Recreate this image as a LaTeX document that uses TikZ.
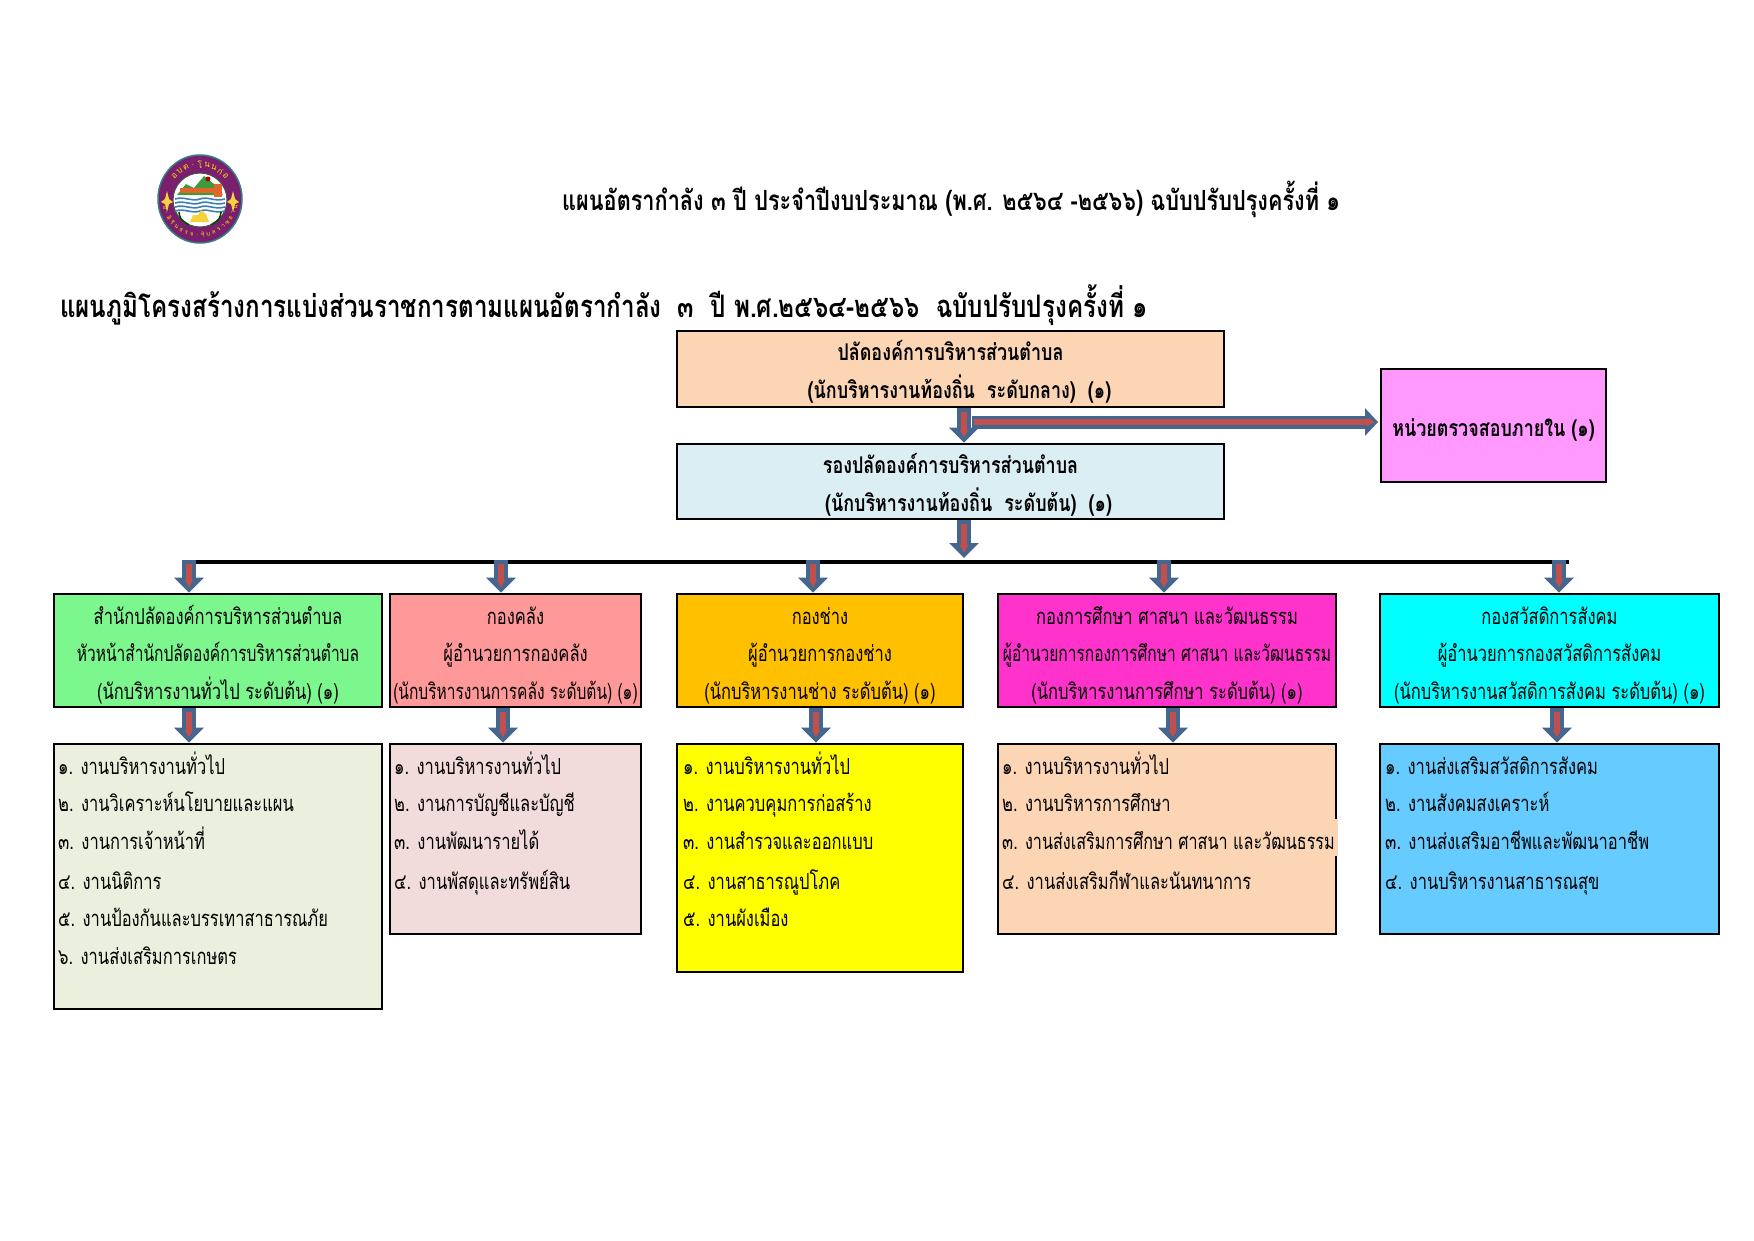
\documentclass[tikz,border=0pt]{standalone}
\usepackage{fontspec}
\usetikzlibrary{arrows.meta}
\newfontfamily\thaifont[Script=Thai,FakeStretch=0.75]{Loma}
\newfontfamily\titlefont[Script=Thai,FakeStretch=0.78]{Loma}
\newfontfamily\sealfont[Script=Thai]{Loma}
\definecolor{arrowblue}{HTML}{44668F}
\definecolor{arrowred}{HTML}{C0504D}
\definecolor{sealpurple}{HTML}{7A1F6E}
\definecolor{sealgreen}{HTML}{3E9A3A}
\definecolor{sealorange}{HTML}{E2662A}
\definecolor{sealwater}{HTML}{3F7FB0}
\definecolor{sealgold}{HTML}{F4D23C}
\definecolor{purecyan}{HTML}{00FFFF}
\definecolor{pureyellow}{HTML}{FFFF00}
\definecolor{peachfill}{HTML}{FCD5B5}
\tikzset{
  headbox/.style={draw=black,line width=2.8pt,align=center,inner sep=0pt,text=black,
    font=\thaifont\fontsize{22}{37.5}\selectfont,text height=102pt},
  listbox/.style={draw=black,line width=2.8pt,inner sep=0pt},
  listrow/.style={anchor=base west,inner sep=0pt,text=black,
    font=\thaifont\fontsize{22}{26}\selectfont},
  topbox/.style={headbox,font=\titlefont\bfseries\fontsize{23}{38}\selectfont,text height=64pt},
  titletext/.style={anchor=base west,inner sep=0pt,text=black},
  sealletter/.style={inner sep=0pt,text=orange!30!yellow,font=\sealfont\fontsize{#1}{#1}\selectfont},
  blueshaft/.style={draw=arrowblue,line width=14pt,-{Triangle[width=29pt,length=15pt]}},
  redshaft/.style={draw=arrowred,line width=6pt,shorten <=4pt,shorten >=5pt,
    -{Triangle[width=8pt,length=8pt]}},
  blueflat/.style={draw=arrowblue,line width=13pt,-{Triangle[width=27pt,length=13pt]}},
  redflat/.style={draw=arrowred,line width=6pt,shorten <=2pt,shorten >=3pt,
    -{Triangle[width=8pt,length=8pt]}},
  busline/.style={draw=black,line width=4pt},
}
\newcommand{\blockarrow}[2]{%
  \draw[blueshaft] #1 -- #2;
  \draw[redshaft] #1 -- #2;
}
\newcommand{\squeezed}[1]{\scalebox{.94}[1]{#1}}
\begin{document}
\begin{tikzpicture}[x=1pt,y=-1pt]
    \useasboundingbox (0,0) rectangle (1754,1240);

    % seal
    \fill[fill=sealpurple,draw=teal!60!gray,line width=1.5pt] (200,199) ellipse (42 and 44);
    \fill[white] (200,200) circle (27);
    \draw[black!70,line width=1pt] (200,200) circle (27);
    \fill[sealgreen] (177,195) -- (186,184) -- (194,188) -- (204,176) -- (214,184) -- (223,195) -- cycle;
    \fill[sealorange] (180,188) rectangle (222,193);
    \fill[sealorange] (214,184) rectangle (222,197);
    \fill[red!70!black] (208,179) circle (2.5);
    \foreach \y in {199,203,207,211}
      \draw[sealwater,line width=1.6pt] (175,\y) .. controls (185,\y-3) and (191,\y+3) .. (200,\y)
        .. controls (208,\y-3) and (214,\y+3) .. (225,\y);
    \fill[sealgold] (190,222) -- (193,215) -- (198,215) -- (201,210) -- (206,214) -- (209,222) -- cycle;
    \draw[green!30!black,line width=1.6pt] (179,212) .. controls (180,219) .. (189,225);
    \draw[green!30!black,line width=1.6pt] (221,212) .. controls (220,219) .. (211,225);
    \foreach \x in {167,233}
      \fill[sealgold] (\x,191) -- (\x+2,199) -- (\x+6,202) -- (\x+2,204) -- (\x,212)
        -- (\x-2,204) -- (\x-6,202) -- (\x-2,199) -- cycle;
    \foreach \ch [count=\i] in {อ,บ,ต,.,โ,น,น,ก่,อ}
      \node[sealletter=8.5,rotate={(5-\i)*12}] (sealtop\i) at ({200+34.5*sin((\i-5)*12)},{199-34.5*cos((\i-5)*12)}) {\ch};
    \foreach \ch [count=\i] in {อ,.,สิ,ริ,น,ธ,ร,จ,.,อุ,บ,ล,ร,า,ช,ธ,า,นี}
      \node[sealletter=6,rotate={(\i-9.5)*9}] (sealbot\i) at ({200+36*sin((\i-9.5)*9)},{199+36*cos((\i-9.5)*9)}) {\ch};

    % titles
    \node[titletext,font=\titlefont\bfseries\fontsize{27.8}{32}\selectfont] (plantitle) at (562,210) {แผนอัตรากำลัง ๓ ปี ประจำปีงบประมาณ (พ.ศ. ๒๕๖๔ -๒๕๖๖) ฉบับปรับปรุงครั้งที่ ๑};
    \node[titletext,font=\titlefont\bfseries\fontsize{31}{35}\selectfont] (charttitle) at (60,317) {แผนภูมิโครงสร้างการแบ่งส่วนราชการตามแผนอัตรากำลัง ~๓~ ปี พ.ศ.๒๕๖๔-๒๕๖๖ ~ฉบับปรับปรุงครั้งที่ ๑};

    % top boxes
    \node[topbox,fill=peachfill,minimum width=547pt,minimum height=76pt] (clerk) at (950.5,369) {ปลัดองค์การบริหารส่วนตำบล\\\hspace*{18pt}(นักบริหารงานท้องถิ่น ~ระดับกลาง) ~(๑)};
    \node[topbox,fill={rgb,255:red,219;green,238;blue,244},minimum width=547pt,minimum height=75pt] (deputy) at (950.5,481.5) {รองปลัดองค์การบริหารส่วนตำบล\\\hspace*{36pt}(นักบริหารงานท้องถิ่น ~ระดับต้น) ~(๑)};
    \node[topbox,fill={rgb,255:red,255;green,153;blue,255},minimum width=225pt,minimum height=113pt,text height=26pt] (audit) at (1493.5,425.5) {หน่วยตรวจสอบภายใน (๑)};

    % division heads
    \node[headbox,fill={rgb,255:red,124;green,247;blue,142},minimum width=328pt,minimum height=113pt] (office) at (218,650.5) {สำนักปลัดองค์การบริหารส่วนตำบล\\\squeezed{หัวหน้าสำนักปลัดองค์การบริหารส่วนตำบล}\\(นักบริหารงานทั่วไป ระดับต้น) (๑)};
    \node[headbox,fill={rgb,255:red,255;green,153;blue,153},minimum width=251pt,minimum height=113pt] (finance) at (515.5,650.5) {กองคลัง\\ผู้อำนวยการกองคลัง\\\squeezed{(นักบริหารงานการคลัง ระดับต้น) (๑)}};
    \node[headbox,fill={rgb,255:red,255;green,192;blue,0},minimum width=286pt,minimum height=113pt] (works) at (820,650.5) {กองช่าง\\ผู้อำนวยการกองช่าง\\(นักบริหารงานช่าง ระดับต้น) (๑)};
    \node[headbox,fill={rgb,255:red,255;green,51;blue,204},minimum width=338pt,minimum height=113pt] (school) at (1167,650.5) {กองการศึกษา ศาสนา และวัฒนธรรม\\\squeezed{ผู้อำนวยการกองการศึกษา ศาสนา และวัฒนธรรม}\\(นักบริหารงานการศึกษา ระดับต้น) (๑)};
    \node[headbox,fill=purecyan,minimum width=339pt,minimum height=113pt] (welfare) at (1549.5,650.5) {กองสวัสดิการสังคม\\ผู้อำนวยการกองสวัสดิการสังคม\\(นักบริหารงานสวัสดิการสังคม ระดับต้น) (๑)};

    % work lists
    \node[listbox,fill={rgb,255:red,235;green,240;blue,222},minimum width=328pt,minimum height=265pt] (officelist) at (218,876.5) {};
    \node[listbox,fill={rgb,255:red,242;green,220;blue,219},minimum width=251pt,minimum height=190pt] (financelist) at (515.5,839) {};
    \node[listbox,fill=pureyellow,minimum width=286pt,minimum height=228pt] (workslist) at (820,858) {};
    \node[listbox,fill=peachfill,minimum width=338pt,minimum height=190pt] (schoollist) at (1167,839) {};
    \node[listbox,fill={rgb,255:red,102;green,204;blue,255},minimum width=339pt,minimum height=190pt] (welfarelist) at (1549.5,839) {};

    \node[listrow] (officeA) at (58,774) {๑. งานบริหารงานทั่วไป};
    \node[listrow] (officeB) at (58,811) {๒. งานวิเคราะห์นโยบายและแผน};
    \node[listrow] (officeC) at (58,849) {๓. งานการเจ้าหน้าที่};
    \node[listrow] (officeD) at (58,889) {๔. งานนิติการ};
    \node[listrow] (officeE) at (58,926) {๕. งานป้องกันและบรรเทาสาธารณภัย};
    \node[listrow] (officeF) at (58,964) {๖. งานส่งเสริมการเกษตร};

    \node[listrow] (financeA) at (394,774) {๑. งานบริหารงานทั่วไป};
    \node[listrow] (financeB) at (394,811) {๒. งานการบัญชีและบัญชี};
    \node[listrow] (financeC) at (394,849) {๓. งานพัฒนารายได้};
    \node[listrow] (financeD) at (394,889) {๔. งานพัสดุและทรัพย์สิน};

    \node[listrow] (worksA) at (683,774) {๑. งานบริหารงานทั่วไป};
    \node[listrow] (worksB) at (683,811) {๒. งานควบคุมการก่อสร้าง};
    \node[listrow] (worksC) at (683,849) {๓. งานสำรวจและออกแบบ};
    \node[listrow] (worksD) at (683,889) {๔. งานสาธารณูปโภค};
    \node[listrow] (worksE) at (683,926) {๕. งานผังเมือง};

    \node[listrow] (schoolA) at (1002,774) {๑. งานบริหารงานทั่วไป};
    \node[listrow] (schoolB) at (1002,811) {๒. งานบริหารการศึกษา};
    \node[listrow,fill=peachfill,text height=30pt,text depth=7pt] (schoolC) at (1002,849) {\makebox[336pt][l]{\scalebox{.98}[1]{๓. งานส่งเสริมการศึกษา ศาสนา และวัฒนธรรม}}};
    \node[listrow] (schoolD) at (1002,889) {๔. งานส่งเสริมกีฬาและนันทนาการ};

    \node[listrow] (welfareA) at (1385,774) {๑. งานส่งเสริมสวัสดิการสังคม};
    \node[listrow] (welfareB) at (1385,811) {๒. งานสังคมสงเคราะห์};
    \node[listrow] (welfareC) at (1385,849) {๓. งานส่งเสริมอาชีพและพัฒนาอาชีพ};
    \node[listrow] (welfareD) at (1385,889) {๔. งานบริหารงานสาธารณสุข};

    % bus and arrows
    \coordinate (busleft) at (189,562);
    \coordinate (busright) at (1569,562);
    \coordinate (busfeed) at (964,558);
    \coordinate (busA) at (189,560);
    \coordinate (busB) at (501,560);
    \coordinate (busC) at (813,560);
    \coordinate (busD) at (1164,560);
    \coordinate (busE) at (1559,560);
    \coordinate (auditfrom) at (972,422);
    \coordinate (auditto) at (1378,422);
    \draw[busline] (busleft) -- (busright);

    \blockarrow{([xshift=13.5pt]clerk.south)}{([xshift=13.5pt]deputy.north)}
    \draw[blueflat] (auditfrom) -- (auditto);
    \draw[redflat] (auditfrom) -- (auditto);
    \blockarrow{([xshift=13.5pt]deputy.south)}{(busfeed)}

    \blockarrow{(busA)}{(busA |- office.north)}
    \blockarrow{(busB)}{(busB |- finance.north)}
    \blockarrow{(busC)}{(busC |- works.north)}
    \blockarrow{(busD)}{(busD |- school.north)}
    \blockarrow{(busE)}{(busE |- welfare.north)}

    \blockarrow{([xshift=-29pt]office.south)}{([xshift=-29pt]officelist.north)}
    \blockarrow{([xshift=-12.5pt]finance.south)}{([xshift=-12.5pt]financelist.north)}
    \blockarrow{([xshift=-4pt]works.south)}{([xshift=-4pt]workslist.north)}
    \blockarrow{([xshift=6pt]school.south)}{([xshift=6pt]schoollist.north)}
    \blockarrow{([xshift=7.5pt]welfare.south)}{([xshift=7.5pt]welfarelist.north)}
\end{tikzpicture}
\end{document}
